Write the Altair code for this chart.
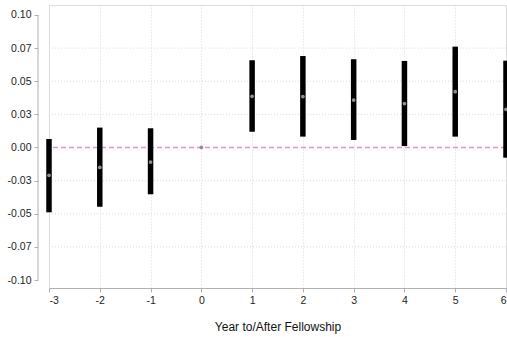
import altair as alt
import pandas as pd

years = [-3, -2, -1, 0, 1, 2, 3, 4, 5, 6]
estimates = [-0.021, -0.015, -0.011, 0.0, 0.0386, 0.0384, 0.0358, 0.0331, 0.0421, 0.0288]
ci_low = [-0.0489, -0.0447, -0.0353, 0.0, 0.0119, 0.0082, 0.0057, 0.0011, 0.0082, -0.0077]
ci_high = [0.0064, 0.015, 0.0145, 0.0, 0.0658, 0.069, 0.0666, 0.0653, 0.0761, 0.0655]
y_ticks = [-0.1, -0.075, -0.05, -0.025, 0.0, 0.025, 0.05, 0.075, 0.1]
y_grid = [-0.075, -0.05, -0.025, 0.025, 0.05, 0.075]

df = pd.DataFrame({"year": years, "est": estimates, "lo": ci_low, "hi": ci_high})
grid_df = pd.DataFrame({"v": y_grid})
axis_df = pd.DataFrame({"top": [max(y_ticks)], "bottom": [min(y_ticks)]})

FONT = "Liberation Sans"
xscale = alt.Scale(domain=[-3, 6], nice=False, zero=False)
yscale = alt.Scale(domain=[-0.106, 0.1075], nice=False, zero=False)

xaxis = alt.Axis(
    values=years, title="Year to/After Fellowship",
    labelExpr="(datum.value < 0 ? '-' : '') + format(abs(datum.value), 'd')",
    grid=True, gridColor="#d9d9d9", gridDash=[1, 2], gridWidth=1,
    domainColor="#b0b0b0", tickColor="#b0b0b0", tickSize=4,
    labelFont=FONT, labelFontSize=10.5, labelColor="#222222", labelPadding=3,
    titleFont=FONT, titleFontSize=12, titleFontWeight="normal", titleColor="#111111",
    titlePadding=16,
)
yaxis = alt.Axis(
    values=y_ticks, title=None, grid=False, domain=False,
    labelExpr="(datum.value < -0.0001 ? '-' : '') + format(abs(datum.value), '.2f')",
    offset=11, tickColor="#b0b0b0", tickSize=4, labelOverlap=False,
    labelFont=FONT, labelFontSize=10.5, labelColor="#222222", labelPadding=3,
)

base = alt.Chart(df)

grid = alt.Chart(grid_df).mark_rule(color="#d9d9d9", strokeDash=[1, 2], strokeWidth=1).encode(
    y=alt.Y("v:Q", scale=yscale, axis=yaxis)
)

yline = alt.Chart(axis_df).mark_rule(color="#b0b0b0", strokeWidth=1).encode(
    x=alt.value(-11),
    y=alt.Y("top:Q", scale=yscale, axis=yaxis),
    y2="bottom:Q",
)

zero = alt.Chart(pd.DataFrame({"z": [0.0]})).mark_rule(
    color="#e890cc", strokeDash=[5, 3], strokeWidth=1.5
).encode(y=alt.Y("z:Q", scale=yscale, axis=yaxis))

bars = base.mark_rule(color="black", strokeWidth=5.5, strokeCap="butt").encode(
    x=alt.X("year:Q", scale=xscale, axis=xaxis),
    y=alt.Y("lo:Q", scale=yscale, axis=yaxis),
    y2="hi:Q",
)

points = base.mark_circle(color="#8f8f8f", size=14, opacity=1).encode(
    x=alt.X("year:Q", scale=xscale, axis=xaxis),
    y=alt.Y("est:Q", scale=yscale, axis=yaxis),
)

chart = alt.layer(grid, yline, zero, bars, points).properties(
    width=457, height=283,
    autosize=alt.AutoSizeParams(type="none"),
    padding={"left": 49, "top": 5, "right": 1, "bottom": 49},
).configure_view(stroke=None).configure(background="white")

chart.save("out.html", embed_options={"renderer": "svg", "actions": False})
